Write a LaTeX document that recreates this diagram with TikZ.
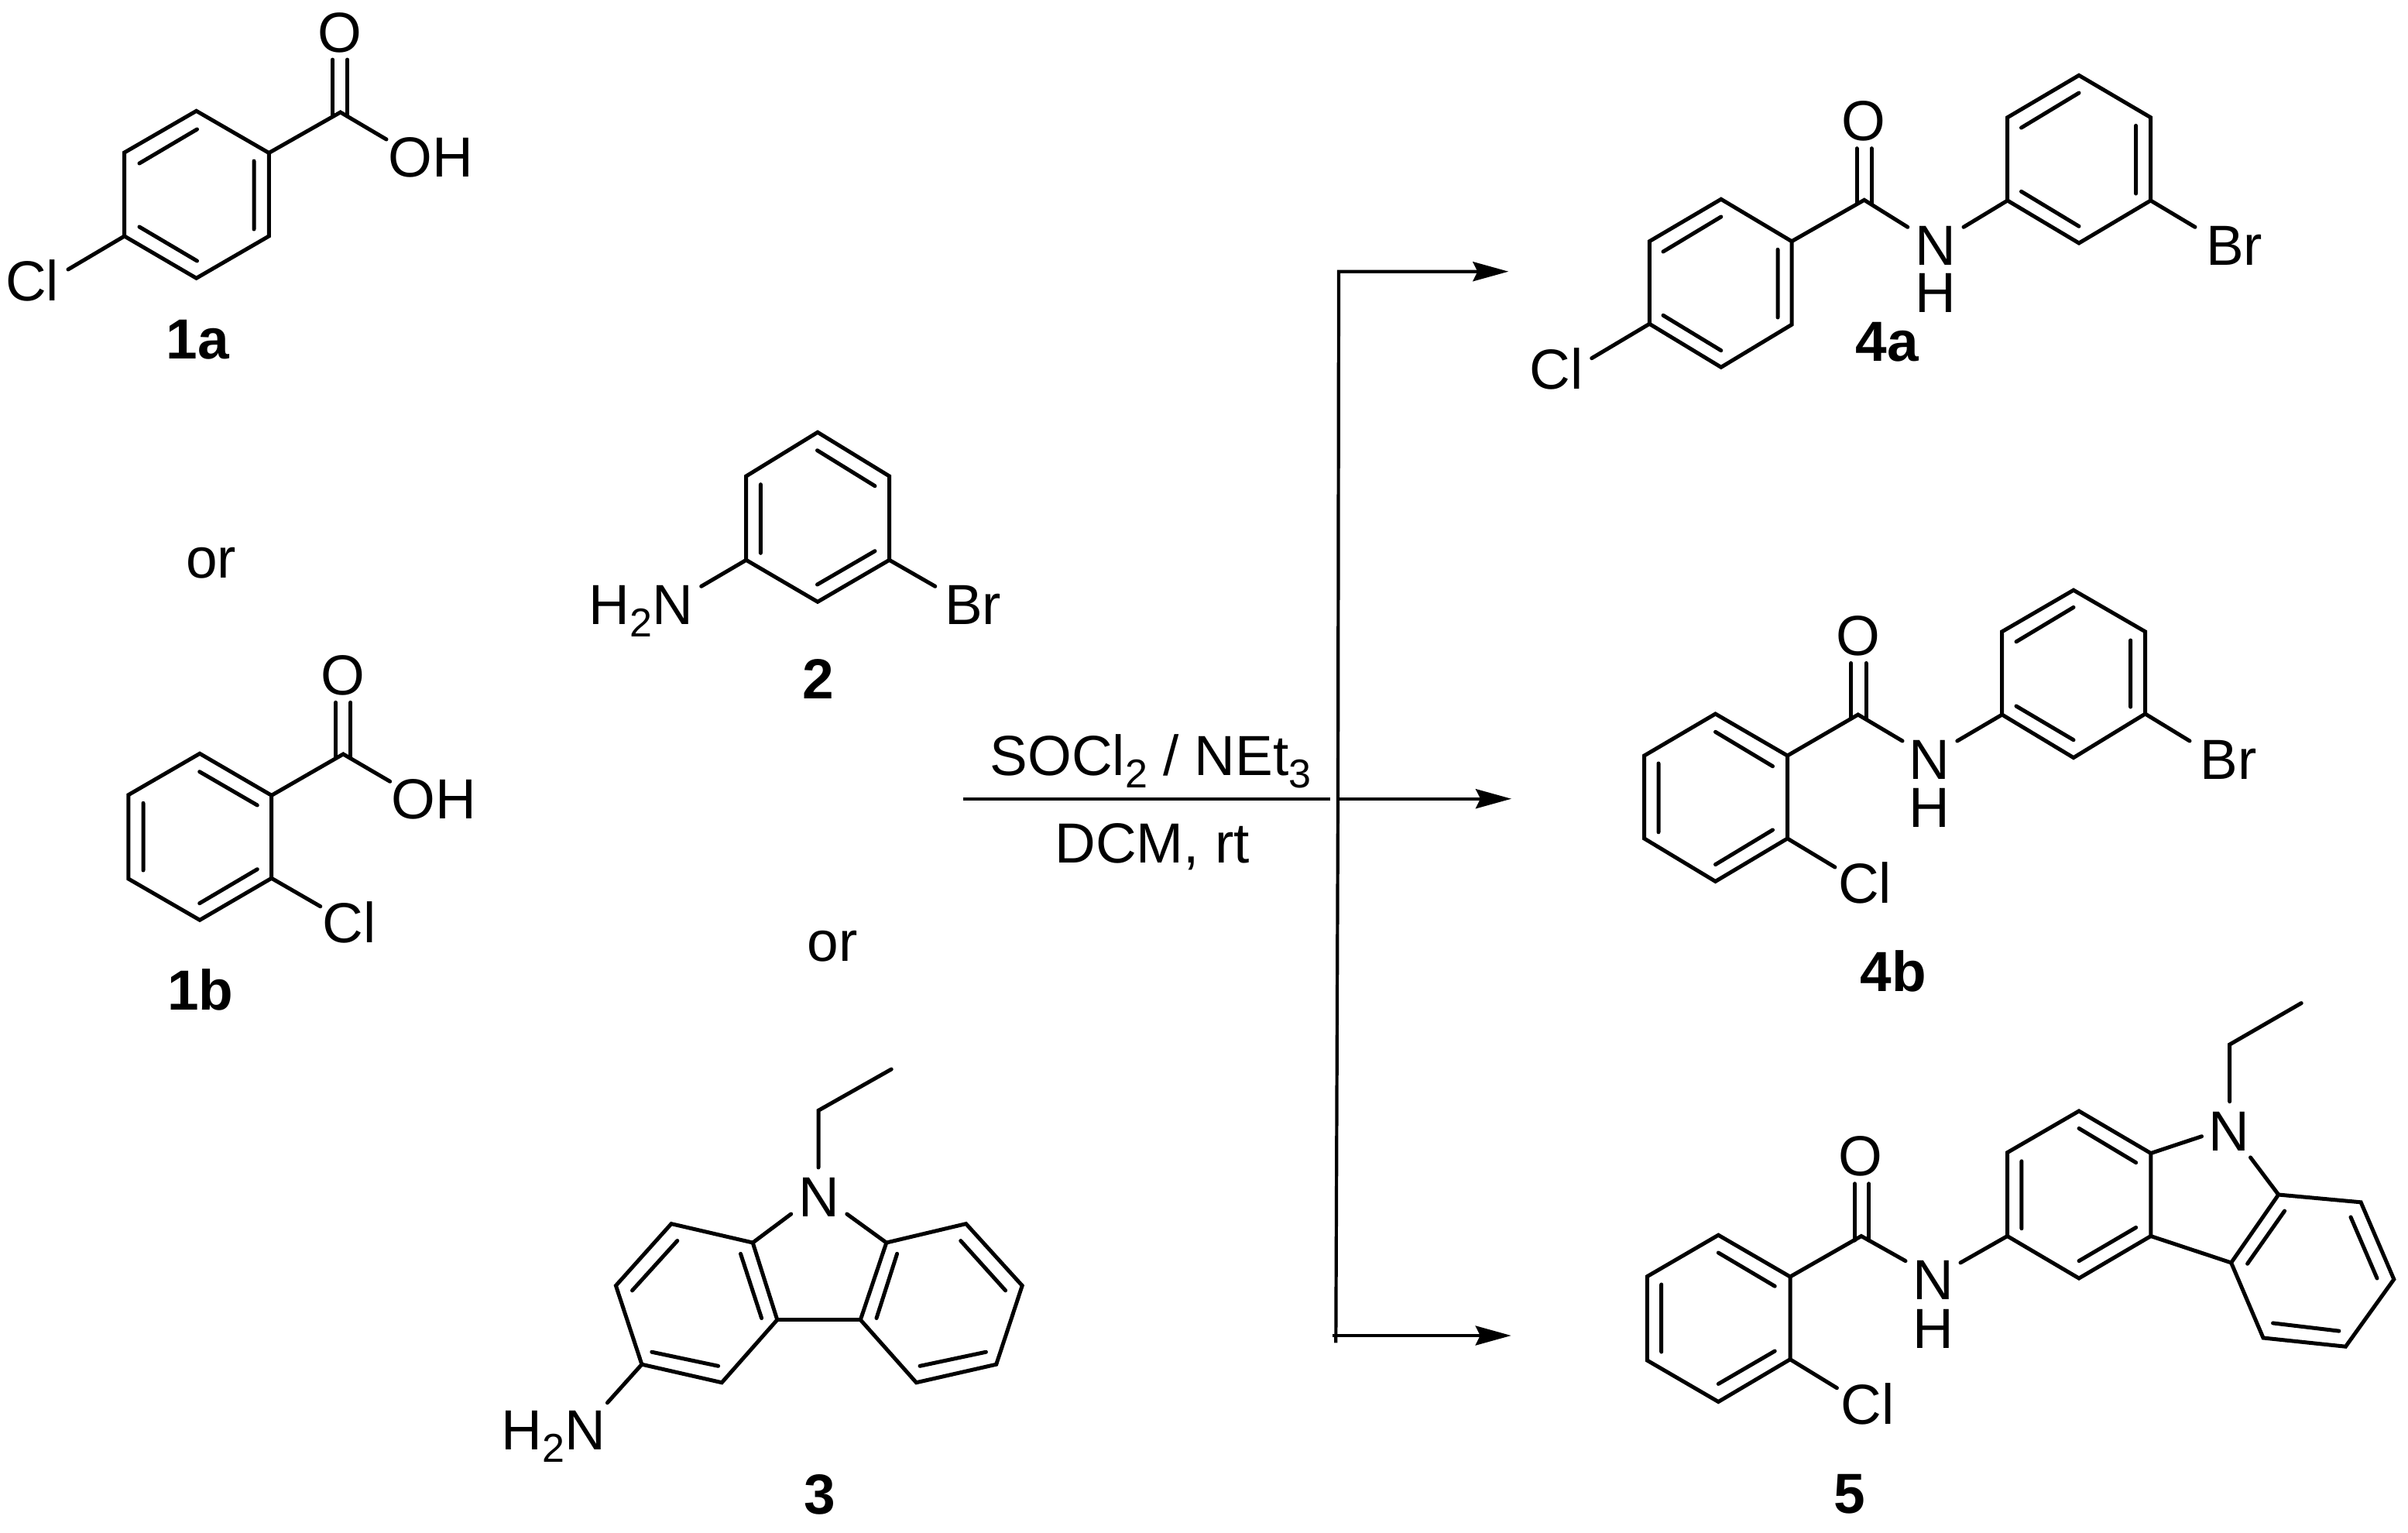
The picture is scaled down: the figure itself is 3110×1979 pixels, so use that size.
\documentclass[tikz,border=0pt]{standalone}
\usepackage{fontspec}
\usetikzlibrary{arrows.meta}
\setmainfont{Liberation Sans}
\newcommand{\subdigit}[1]{\raisebox{-15.5pt}{\fontsize{52}{52}\selectfont #1}}
\tikzset{
  bond/.style={line width=5pt,line cap=round,line join=miter,black},
  atom/.style={anchor=base,inner sep=0pt,outer sep=0pt,font=\fontsize{73}{80}\selectfont,text=black},
  cmpd/.style={anchor=base,inner sep=0pt,outer sep=0pt,font=\fontsize{73}{80}\selectfont\bfseries,text=black},
  rxnline/.style={line width=4.2pt,line cap=butt,line join=miter,black},
  rxnarrow/.style={rxnline,-{Stealth[length=46pt,width=25pt,inset=6pt]}}
}
\begin{document}
\begin{tikzpicture}[x=1pt,y=-1pt]
\useasboundingbox (0,0) rectangle (3110,1979);

% ---------- 1a
\draw[bond] (253.6,143.3)--(347.3,197.5)--(347.3,305)--(253.6,359.3)--(160.7,305)--(160.7,197)--cycle;
\draw[bond] (254.5,167)--(180,211) (328,208)--(328,296) (180,293)--(254.5,337);
\draw[bond] (347.3,197.5)--(439.7,145)--(499,180);
\draw[bond] (429.5,77)--(429.5,148) (448.7,77)--(448.7,148);
\draw[bond] (160.7,305)--(88,348);
\node[atom] (o1a) at (439,67) {O};
\node[atom] (oh1a) at (556.5,228) {OH};
\node[atom] (cl1a) at (41.5,388) {Cl};
\node[cmpd] (l1a) at (255.5,463) {1a};
\node[atom] (or1) at (272.5,746.7) {or};

% ---------- 1b
\draw[bond] (258,973.3)--(350.7,1027.3)--(350.7,1134.3)--(258,1188.3)--(165.8,1135)--(165.8,1026.7)--cycle;
\draw[bond] (257.7,996.7)--(332.3,1040) (185,1037.3)--(185,1124) (257.7,1166.7)--(332.3,1122.7);
\draw[bond] (350.7,1027.3)--(443.3,974)--(503.7,1009.3);
\draw[bond] (433.7,907.3)--(433.7,978) (452.8,907.3)--(452.8,978);
\draw[bond] (350.7,1134.3)--(413.8,1170.7);
\node[atom] (o1b) at (443,897) {O};
\node[atom] (oh1b) at (560.5,1057) {OH};
\node[atom] (cl1b) at (451,1217) {Cl};
\node[cmpd] (l1b) at (259,1304) {1b};

% ---------- 2
\draw[bond] (1056,558.3)--(1148.6,615)--(1148.6,723.3)--(1056,777.3)--(963.7,723.3)--(963.7,615)--cycle;
\draw[bond] (1055.5,581.7)--(1130,627.7) (982.4,625.7)--(982.4,714.3) (1055.5,755)--(1130,711.7);
\draw[bond] (963.7,723.3)--(905.7,757.3) (1148.6,723.3)--(1207.8,757.3);
\node[atom] (nh2) at (828,806.7) {H\subdigit{2}N};
\node[atom] (br2) at (1256.7,806.7) {Br};
\node[cmpd] (l2) at (1056.8,902.7) {2};
\node[atom] (or2) at (1075,1241.7) {or};

% ---------- 3
\draw[bond] (1151.2,1381)--(1057,1434.3)--(1057,1507.9);
\draw[bond] (1021.7,1568)--(972.2,1605)--(867,1580.6)--(795.4,1660.5)--(828.9,1762.2)--(932.2,1785.7)--(1003.8,1704.6)--(972.2,1605);
\draw[bond] (1093.8,1568)--(1144.8,1605)--(1247.6,1580.6)--(1320.2,1660.5)--(1286.7,1762.2)--(1183.4,1785.7)--(1111.3,1704.6)--(1144.8,1605);
\draw[bond] (1003.8,1704.6)--(1111.3,1704.6);
\draw[bond] (874.8,1602.5)--(816.5,1666.8) (841.8,1746.2)--(927.6,1764.3) (956.5,1619.3)--(983.6,1702.5);
\draw[bond] (1240.7,1602.5)--(1298.6,1666.8) (1273.4,1746.2)--(1188,1764.3) (1158.6,1619.3)--(1132,1702.5);
\draw[bond] (828.9,1762.2)--(784.4,1811.8);
\node[atom] (n3) at (1057.5,1571) {N};
\node[atom] (nh3) at (714.8,1872.7) {H\subdigit{2}N};
\node[cmpd] (l3) at (1059,1955) {3};

% ---------- reaction arrows
\coordinate (rstart) at (1244,1031.7);
\coordinate (rend) at (1717.5,1031.7);
\coordinate (vtop) at (1729,350.7);
\coordinate (vmid) at (1728,1031.7);
\coordinate (vbot) at (1725.3,1734.3);
\coordinate (a4a) at (1948.3,350.7);
\coordinate (m4b) at (1726.6,1031.7);
\coordinate (a4b) at (1952,1031.7);
\coordinate (m5) at (1721,1725);
\coordinate (a5) at (1951.7,1725);
\draw[rxnline] (rstart)--(rend);
\draw[rxnarrow] (vbot)--(vmid)--(vtop)--(a4a);
\draw[rxnarrow] (m4b)--(a4b);
\draw[rxnarrow] (m5)--(a5);
\node[atom] (rgt) at (1486,1001.7) {SOCl\subdigit{2} / NEt\subdigit{3}};
\node[atom] (cond) at (1488,1114.3) {DCM, rt};

% ---------- 4a
\draw[bond] (2222.8,257.3)--(2314,311.7)--(2314,419.3)--(2222.8,474.3)--(2130.3,418.3)--(2130.3,311.7)--cycle;
\draw[bond] (2222.8,280)--(2148,325) (2296,322.3)--(2296,410) (2148,407.3)--(2222.8,452.7);
\draw[bond] (2130.3,418.3)--(2055.7,462.7);
\draw[bond] (2314,311.7)--(2407.7,258.3)--(2463.8,293.3);
\draw[bond] (2398,191.7)--(2398,263) (2417,191.7)--(2417,263);
\draw[bond] (2536,293.3)--(2592.7,259);
\draw[bond] (2685,97.3)--(2777.6,151.7)--(2777.6,259)--(2685,314)--(2592.7,259)--(2592.7,151.7)--cycle;
\draw[bond] (2685,120)--(2610.5,165) (2758.5,162.3)--(2758.5,250) (2610.5,247.3)--(2685,292.3);
\draw[bond] (2777.6,259)--(2835,293.3);
\node[atom] (o4a) at (2407,181) {O};
\node[atom] (n4a) at (2500,342.7) {N};
\node[atom] (h4a) at (2500,403.3) {H};
\node[atom] (br4a) at (2885.5,342.7) {Br};
\node[atom] (cl4a) at (2010,502.7) {Cl};
\node[cmpd] (l4a) at (2437,466) {4a};

% ---------- 4b
\draw[bond] (2215.5,922)--(2308.5,976)--(2308.5,1083)--(2215.5,1138.4)--(2123.6,1083)--(2123.6,976)--cycle;
\draw[bond] (2215.5,945.3)--(2289.5,989.7) (2142,986)--(2142,1074.8) (2215.5,1116.6)--(2289.5,1071.9);
\draw[bond] (2308.5,1083)--(2369.9,1120);
\draw[bond] (2308.5,976)--(2399.7,923)--(2457,957);
\draw[bond] (2390.6,856.5)--(2390.6,928) (2410,856.5)--(2410,928);
\draw[bond] (2527.8,957)--(2585.7,923);
\draw[bond] (2678,762.2)--(2770.6,815.8)--(2770.6,922)--(2678,978.6)--(2585.7,923)--(2585.7,815.8)--cycle;
\draw[bond] (2678,784.4)--(2604,828.8) (2751.6,827)--(2751.6,913) (2604,912)--(2678,955.7);
\draw[bond] (2770.6,922)--(2828,957);
\node[atom] (o4b) at (2399.7,846.5) {O};
\node[atom] (n4b) at (2492,1006.4) {N};
\node[atom] (h4b) at (2492,1068.5) {H};
\node[atom] (br4b) at (2878,1006.4) {Br};
\node[atom] (cl4b) at (2408.6,1166.6) {Cl};
\node[cmpd] (l4b) at (2445.3,1280) {4b};

% ---------- 5
\draw[bond] (2219.3,1595.2)--(2312,1649)--(2312,1755.7)--(2219.3,1810.5)--(2127.3,1757)--(2127.3,1648.7)--cycle;
\draw[bond] (2219.3,1618)--(2292.2,1661.2) (2145.7,1659)--(2145.7,1746) (2219.3,1787.4)--(2292.2,1745);
\draw[bond] (2312,1755.7)--(2372.4,1792.7);
\draw[bond] (2312,1649)--(2403.9,1596.5)--(2461,1628.6);
\draw[bond] (2395.4,1528.8)--(2395.4,1602) (2413.8,1528.8)--(2413.8,1602);
\draw[bond] (2532,1630.9)--(2592.5,1596.5);
\draw[bond] (2685,1435)--(2777.8,1489.5)--(2777.8,1596.5)--(2685,1651)--(2592.5,1596.5)--(2592.5,1488.6)--cycle;
\draw[bond] (2685,1457.4)--(2758.7,1501.6) (2610.9,1499.8)--(2610.9,1586.7) (2685,1628.6)--(2758.7,1585.4);
\draw[bond] (2972.2,1295.6)--(2879.6,1349.1)--(2879.6,1422.7);
\draw[bond] (2777.8,1489.5)--(2843.5,1467.7);
\draw[bond] (2906.5,1494.9)--(2942.7,1543);
\draw[bond] (2777.8,1596.5)--(2881.6,1630.9);
\draw[bond] (2942.7,1543)--(3049.1,1552.8)--(3091.8,1652.3)--(3029.4,1739.2)--(2923,1728)--(2881.6,1630.9)--cycle;
\draw[bond] (2950.6,1564)--(2902.6,1632.2) (3036,1572)--(3070,1651) (3020.9,1719.1)--(2935.5,1708.9);
\node[atom] (o5) at (2403.3,1518) {O};
\node[atom] (n5) at (2497,1678) {N};
\node[atom] (h5) at (2497,1741.4) {H};
\node[atom] (nr5) at (2879,1486.4) {N};
\node[atom] (cl5) at (2412.4,1839.5) {Cl};
\node[cmpd] (l5) at (2388.8,1954) {5};
\end{tikzpicture}
\end{document}
